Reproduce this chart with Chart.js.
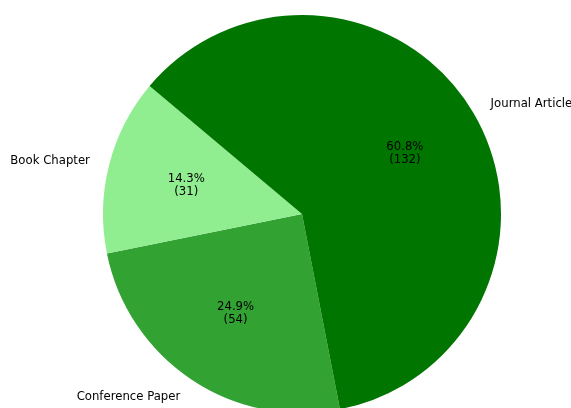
<!DOCTYPE html>
<html>
<head>
<meta charset="utf-8">
<script src="https://cdn.jsdelivr.net/npm/chart.js@4/dist/chart.umd.min.js"></script>
<style>
  html, body { margin: 0; padding: 0; background: #fff; overflow: hidden; }
  #wrap { position: relative; width: 571px; height: 428px; }
</style>
</head>
<body>
<div id="wrap"><canvas id="c"></canvas></div>
<script>
// Publication types, listed in the order the slices are drawn (clockwise)
const categories = ['Conference Paper', 'Book Chapter', 'Journal Article'];
const counts = [54, 31, 132];
const sliceColors = ['#32a232', '#90ee90', '#007500'];

const total = counts.reduce((a, b) => a + b, 0);

// Writes the category names outside each slice and the share / count inside it
const sliceLabels = {
  id: 'sliceLabels',
  afterDatasetsDraw(chart) {
    const ctx = chart.ctx;
    const meta = chart.getDatasetMeta(0);
    ctx.save();
    ctx.font = '11.7px "DejaVu Sans", sans-serif';
    ctx.fillStyle = '#000';
    meta.data.forEach((arc, i) => {
      const mid = (arc.startAngle + arc.endAngle) / 2;
      const r = arc.outerRadius;
      const cx = Math.cos(mid), cy = Math.sin(mid);

      // category name just outside the rim
      const lx = arc.x + cx * r * 1.1;
      const ly = arc.y + cy * r * 1.1 + 1;
      ctx.textAlign = cx >= 0 ? 'left' : 'right';
      ctx.textBaseline = 'middle';
      ctx.fillText(categories[i], lx, ly);

      // percentage and count inside the slice
      const px = arc.x + cx * r * 0.6;
      const py = arc.y + cy * r * 0.6;
      const pct = (counts[i] / total * 100).toFixed(1) + '%';
      ctx.textAlign = 'center';
      ctx.fillText(pct, px, py - 6);
      ctx.fillText('(' + counts[i] + ')', px, py + 7);
    });
    ctx.restore();
  }
};

new Chart(document.getElementById('c'), {
  type: 'pie',
  data: {
    labels: categories,
    datasets: [{
      data: counts,
      backgroundColor: sliceColors,
      borderWidth: 0
    }]
  },
  options: {
    responsive: true,
    maintainAspectRatio: false,
    animation: false,
    rotation: 169,
    layout: { padding: { top: 15, bottom: 15, left: 33, right: 0 } },
    plugins: {
      legend: { display: false },
      tooltip: { enabled: false }
    }
  },
  plugins: [sliceLabels]
});
</script>
</body>
</html>
